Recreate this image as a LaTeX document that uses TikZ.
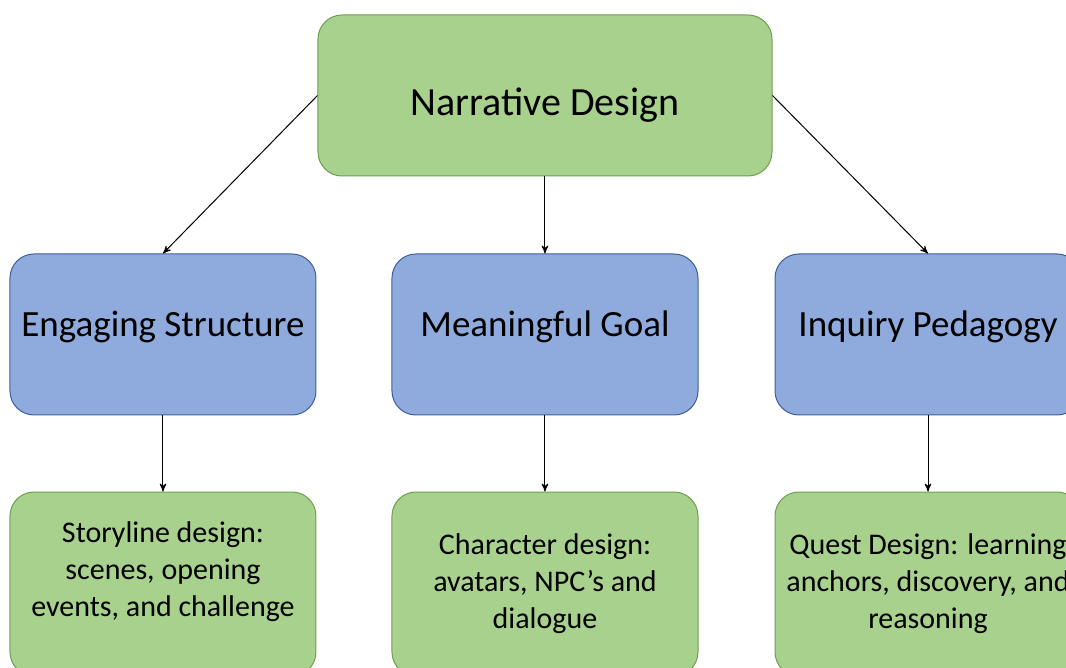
\documentclass[tikz,border=0pt]{standalone}
\usepackage{fontspec}
\setmainfont{Carlito}
\usepackage{tikz}
\usetikzlibrary{positioning,arrows}
\definecolor{leaf}{HTML}{A9D18E}
\definecolor{leafline}{HTML}{6E9F4E}
\definecolor{sky}{HTML}{8FAADC}
\definecolor{skyline}{HTML}{3F5F9C}

\begin{document}
\begin{tikzpicture}[node distance=38pt and 37.5pt, >=stealth', line width=0.5pt,
box/.style={draw, rounded corners=12pt, align=center, inner sep=0pt},
topbox/.style={box, fill=leaf, draw=leafline, minimum width=227pt, minimum height=80.5pt, text height=23pt, font=\fontsize{20}{24}\selectfont},
midbox/.style={box, fill=sky, draw=skyline, minimum width=153pt, minimum height=80.5pt, text depth=11pt, font=\fontsize{18.5}{22}\selectfont},
lowbox/.style={box, fill=leaf, draw=leafline, minimum width=153pt, minimum height=92pt, font=\fontsize{15}{18.5}\selectfont}
]

% page edges, the right column runs off the page
\useasboundingbox (-272.5pt,47.75pt) rectangle (260.5pt,-286.25pt);

\node (narr) [topbox] at (0,0) {Narrative Design};
\node (goal) [midbox, below=38.5pt of narr] {Meaningful Goal};
\node (struct) [midbox, left=of goal] {Engaging Structure};
\node (inquiry) [midbox, right=38pt of goal] {Inquiry Pedagogy};

\node (chardes) [lowbox, below=of goal] {Character design:\\avatars, NPC's and\\dialogue};
\node (story) [lowbox, below=of struct, text depth=15pt] {Storyline design:\\scenes, opening\\events, and challenge};
\node (quest) [lowbox, below=of inquiry] {Quest Design: learning\\anchors, discovery, and\\reasoning};

\draw[->] (narr.west) -- (struct.north);
\draw[->] (narr.south) -- (goal.north);
\draw[->] (narr.east) -- (inquiry.north);

\draw[->] (struct) -- (story);
\draw[->] (goal) -- (chardes);
\draw[->] (inquiry) -- (quest);

\end{tikzpicture}
\end{document}
